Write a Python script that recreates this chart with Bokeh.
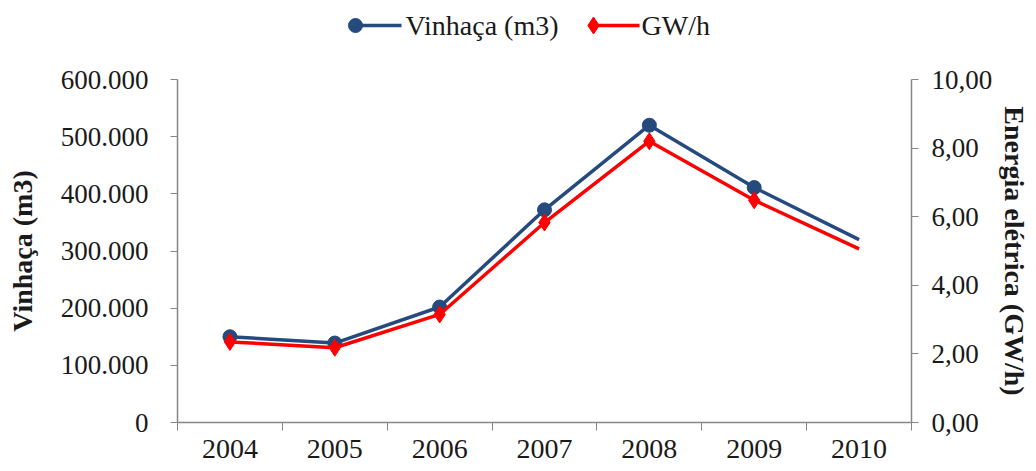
from bokeh.plotting import figure
from bokeh.layouts import column
from bokeh.models import Range1d, LinearAxis, FixedTicker
from bokeh.core.properties import value
from bokeh.embed import file_html
from bokeh.resources import INLINE

# ---- data ----
years = ["2004", "2005", "2006", "2007", "2008", "2009", "2010"]
vinhaca = [150000, 139000, 202000, 372000, 520000, 411000, 320000]
gwh = [2.35, 2.18, 3.15, 5.83, 8.20, 6.48, 5.06]
left_ticks = [0, 100000, 200000, 300000, 400000, 500000, 600000]
right_ticks = [0, 2, 4, 6, 8, 10]
series_names = ["Vinhaça (m3)", "GW/h"]
marked = 6  # markers drawn on the first six years

NAVY = "#254A7E"
RED = "#FF0000"
AXIS = "#868686"
FONT = "Liberation Serif"
TXT = "#1a1a1a"

W = 1036
LEG_H = 49
FRAME_L, FRAME_R = 177, 911

# ---------------- legend strip (x in page pixels) ----------------
lg = figure(width=W, height=LEG_H, output_backend="svg", toolbar_location=None,
            x_range=Range1d(FRAME_L, FRAME_R), y_range=Range1d(LEG_H, 0),
            min_border_left=FRAME_L, min_border_right=W - FRAME_R,
            min_border_top=0, min_border_bottom=0)
lg.axis.visible = False
lg.grid.visible = False
lg.outline_line_color = None
lg.background_fill_color = "white"
lg.border_fill_color = "white"

leg_y = 25
# item 1: circle at left end of a line, then label
lg.segment(x0=[355], y0=[leg_y], x1=[401], y1=[leg_y], line_color=NAVY, line_width=3.5)
lg.scatter([355], [leg_y], marker="circle", size=14, fill_color=NAVY, line_color=NAVY)
lg.text([405], [leg_y], text=[series_names[0]], text_font=value(FONT),
        text_font_size="28px", text_color=TXT, text_baseline="middle", text_align="left")
# item 2: diamond at left end of a line, then label
lg.segment(x0=[593], y0=[leg_y], x1=[639], y1=[leg_y], line_color=RED, line_width=3.5)
lg.scatter([593], [leg_y], marker="diamond", size=17, fill_color=RED, line_color=RED)
lg.text([641], [leg_y], text=[series_names[1]], text_font=value(FONT),
        text_font_size="28px", text_color=TXT, text_baseline="middle", text_align="left")

# ---------------- main chart ----------------
x = list(range(len(years)))

p = figure(width=W, height=471 - LEG_H, output_backend="svg", toolbar_location=None,
           x_range=Range1d(-0.5, len(years) - 0.5), y_range=Range1d(0, 600000),
           min_border_left=FRAME_L, min_border_right=W - FRAME_R,
           min_border_top=79 - LEG_H, min_border_bottom=49)
p.extra_y_ranges = {"gw": Range1d(0, 10)}
p.xgrid.visible = False
p.ygrid.visible = False
p.outline_line_color = None
p.background_fill_color = "white"
p.border_fill_color = "white"

# x axis: labels at category centres, ticks at category boundaries
xa = p.xaxis[0]
xa.ticker = FixedTicker(ticks=x, minor_ticks=[i - 0.5 for i in range(len(years) + 1)])
xa.major_label_overrides = {i: y for i, y in zip(x, years)}
xa.major_tick_line_color = None
xa.minor_tick_line_color = AXIS
xa.minor_tick_out = 8
xa.minor_tick_in = 0
xa.axis_line_color = AXIS
xa.axis_line_width = 1.5
xa.major_label_standoff = 9
xa.major_label_text_font = FONT
xa.major_label_text_font_size = "28px"
xa.major_label_text_color = TXT

# left axis
ya = p.yaxis[0]
ya.ticker = FixedTicker(ticks=left_ticks)
ya.major_label_overrides = {v: f"{v:,}".replace(",", ".") for v in left_ticks}
ya.minor_tick_line_color = None
ya.major_tick_out = 7
ya.major_tick_in = 0
ya.major_tick_line_color = AXIS
ya.axis_line_color = AXIS
ya.axis_line_width = 1.5
ya.major_label_standoff = 22
ya.major_label_text_font = FONT
ya.major_label_text_font_size = "27px"
ya.major_label_text_color = TXT
ya.axis_label = "Vinhaça (m3)"
ya.axis_label_text_font = FONT
ya.axis_label_text_font_style = "bold"
ya.axis_label_text_font_size = "28px"
ya.axis_label_text_color = TXT
ya.axis_label_standoff = 20

# right axis
ra = LinearAxis(y_range_name="gw", ticker=FixedTicker(ticks=right_ticks))
ra.major_label_overrides = {v: f"{v:.2f}".replace(".", ",") for v in right_ticks}
ra.minor_tick_line_color = None
ra.major_tick_out = 7
ra.major_tick_in = 0
ra.major_tick_line_color = AXIS
ra.axis_line_color = AXIS
ra.axis_line_width = 1.5
ra.major_label_standoff = 13
ra.major_label_text_font = FONT
ra.major_label_text_font_size = "27px"
ra.major_label_text_color = TXT
ra.axis_label = "Energia elétrica (GW/h)"
ra.axis_label_text_font = FONT
ra.axis_label_text_font_style = "bold"
ra.axis_label_text_font_size = "28px"
ra.axis_label_text_color = TXT
ra.axis_label_standoff = 4
p.add_layout(ra, "right")

# series
p.line(x, vinhaca, line_color=NAVY, line_width=3.5)
p.scatter(x[:marked], vinhaca[:marked], marker="circle", size=14,
          fill_color=NAVY, line_color=NAVY)
p.line(x, gwh, line_color=RED, line_width=3.5, y_range_name="gw")
p.scatter(x[:marked], gwh[:marked], marker="diamond", size=17,
          fill_color=RED, line_color=RED, y_range_name="gw")

layout = column(lg, p, spacing=0)
open("out.html", "w").write(file_html(layout, INLINE))
